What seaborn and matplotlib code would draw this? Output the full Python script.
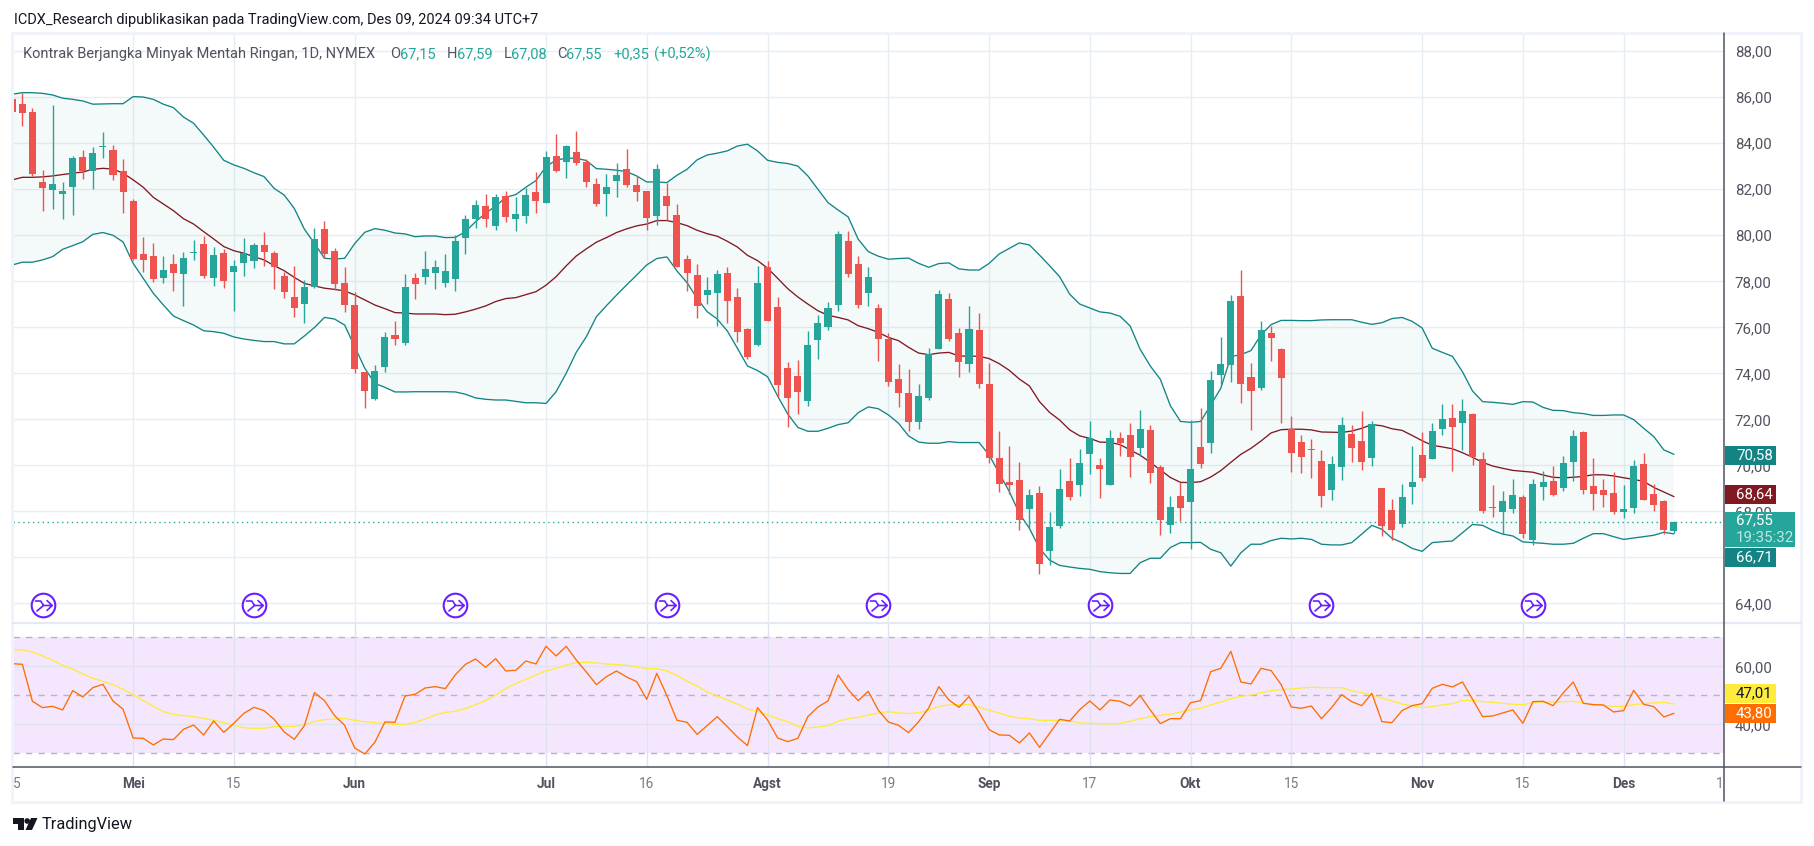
import numpy as np
import pandas as pd
import matplotlib
matplotlib.use("Agg")
import matplotlib.pyplot as plt
import seaborn as sns
from matplotlib.lines import Line2D
from matplotlib.patches import Circle, Polygon, Rectangle
from matplotlib.path import Path
from matplotlib.transforms import Affine2D

# daily candles
opens = [85.93,85.71,85.36,82.32,81.97,81.80,82.10,83.40,82.80,83.84,83.71,82.80,81.49,79.19,79.10,78.14,78.75,78.32,79.25,79.62,
         78.14,79.23,78.40,78.80,78.88,79.58,79.23,78.23,77.32,77.01,77.75,80.27,79.32,77.93,76.97,74.06,72.88,74.28,75.67,75.32,
         78.14,78.19,78.36,77.93,78.10,79.88,80.71,81.28,80.41,81.71,80.71,80.84,81.88,81.41,83.45,83.19,83.62,83.19,82.23,81.80,
         82.36,82.88,82.19,81.93,80.84,81.71,80.88,78.97,78.28,77.41,77.49,78.36,77.32,75.93,75.23,78.62,76.88,74.23,73.88,72.80,
         75.45,76.01,76.97,79.75,78.75,77.49,76.84,75.49,73.75,73.14,71.88,72.93,75.06,77.23,75.75,74.41,75.88,73.54,70.32,69.28,
         69.36,68.10,68.80,66.28,67.36,69.32,69.14,70.49,70.01,69.14,71.19,71.32,70.75,71.54,69.93,67.41,68.67,68.41,70.80,70.97,
         73.93,74.36,77.36,73.84,73.36,75.75,75.06,71.58,71.01,70.71,70.19,68.93,69.93,71.36,71.06,70.32,69.01,68.06,67.45,69.06,
         70.45,70.27,71.58,72.06,71.84,72.23,70.27,68.19,67.97,68.10,68.62,66.75,69.06,69.32,69.01,70.15,71.45,69.10,68.93,68.80,
         67.97,68.15,70.06,68.75,68.45,67.15]
highs = [85.95,86.17,85.52,82.84,85.67,82.32,83.45,83.71,83.84,84.49,83.93,83.32,81.58,79.93,79.67,79.10,79.19,79.28,79.80,79.97,
         79.49,79.41,78.93,79.88,79.67,80.14,79.32,78.40,78.67,78.06,80.32,80.62,79.45,78.62,77.54,74.06,74.36,75.80,76.27,78.32,
         78.36,79.32,78.93,79.19,80.01,80.88,81.54,81.80,81.80,81.93,81.67,82.06,82.75,83.67,84.41,83.93,84.54,83.32,82.49,82.67,
         83.15,83.75,82.58,81.93,83.10,82.28,81.36,79.14,78.75,78.19,78.49,78.62,77.71,75.97,78.67,78.88,77.32,74.49,74.58,75.84,
         76.54,77.10,80.19,80.19,79.10,78.62,77.01,75.75,74.41,74.19,73.54,75.10,77.62,77.49,75.97,76.93,76.62,74.45,71.49,70.84,
         70.14,68.97,69.10,67.97,69.84,70.32,70.71,71.93,70.32,71.54,71.45,71.84,72.41,71.75,70.01,68.67,69.28,71.97,72.49,74.10,
         75.58,77.41,78.49,74.45,76.28,76.06,75.10,72.15,71.32,71.14,70.67,70.41,72.10,71.75,72.36,71.93,69.01,68.54,69.19,70.84,
         71.45,71.84,72.67,72.67,72.88,72.28,70.58,69.15,68.88,69.41,68.71,69.41,69.75,69.97,70.41,71.54,71.49,70.32,69.41,69.71,
         69.15,70.23,70.54,69.19,68.49,67.59]
lows = [85.36,84.75,82.58,81.07,81.14,80.71,80.88,82.45,82.01,83.36,82.40,80.97,78.93,78.40,77.97,77.93,77.58,76.93,78.93,78.14,
        77.80,77.71,76.71,78.23,78.58,78.67,77.67,77.28,76.45,76.19,77.71,79.01,77.62,76.67,74.01,72.49,72.84,74.06,75.23,75.23,
        77.23,77.88,77.67,77.75,77.58,79.19,80.32,80.36,80.23,80.58,80.19,80.54,80.97,81.41,82.75,82.49,83.06,82.10,81.28,80.84,
        81.67,82.10,81.49,80.23,80.45,80.67,78.62,77.58,76.40,77.01,76.06,76.19,75.36,74.62,75.19,76.28,72.97,71.67,72.23,72.58,
        74.62,75.88,76.71,78.19,76.84,76.93,74.54,73.45,72.54,71.49,71.58,72.84,75.06,75.41,73.84,74.06,73.36,70.10,68.84,68.75,
        67.19,67.28,65.28,65.67,67.28,68.49,68.67,69.62,68.58,69.14,70.41,69.49,70.41,69.23,66.97,67.06,67.58,66.36,69.88,70.54,
        73.49,73.62,72.71,71.54,73.28,74.54,71.84,69.71,69.67,69.45,68.19,68.49,69.36,70.15,69.80,69.97,66.93,66.75,67.32,68.32,
        69.32,70.27,71.32,69.75,70.67,70.01,67.93,67.75,67.01,67.93,66.84,66.54,68.49,68.67,68.88,69.32,68.75,68.06,68.19,67.88,
        67.71,67.93,68.49,68.01,67.01,67.08]
closes = [85.36,85.33,82.67,82.06,82.23,81.93,83.36,82.80,83.58,83.88,82.62,81.88,78.97,78.93,78.10,78.49,78.36,79.01,79.28,78.23,
          79.15,78.01,78.67,79.23,79.58,79.28,78.62,77.54,76.84,77.75,79.84,79.19,77.88,76.97,74.19,73.23,74.10,75.58,75.49,77.75,
          77.88,78.54,78.62,78.45,79.75,80.71,81.32,80.71,81.67,80.80,80.93,81.75,81.49,83.41,82.80,83.88,83.15,82.32,81.36,82.10,
          82.62,82.19,81.88,80.75,82.88,81.28,78.62,78.36,76.93,77.62,78.32,77.14,75.80,74.71,77.93,76.28,73.49,72.93,73.19,75.23,
          76.19,76.84,80.06,78.32,76.97,78.19,75.49,73.62,73.14,71.88,73.01,74.84,77.45,75.49,74.49,75.93,73.54,70.32,69.19,69.14,
          67.62,68.71,65.71,67.32,68.97,68.62,70.10,71.19,69.84,71.19,70.97,70.36,71.58,69.67,67.62,68.19,68.15,69.84,70.06,73.71,
          74.41,77.15,73.54,73.23,75.88,75.54,73.80,70.54,70.36,70.67,68.67,70.06,71.75,70.75,70.15,71.80,67.36,67.19,68.62,69.27,
          69.45,71.49,72.01,71.67,72.36,70.36,68.01,68.15,68.45,68.71,67.01,69.19,69.27,68.71,70.10,71.27,68.93,68.75,68.71,67.97,
          68.10,69.97,68.49,68.28,67.20,67.55]

# Bollinger bands
bb_upper = [86.13,86.20,86.20,86.17,86.10,85.96,85.91,85.84,85.70,85.71,85.72,85.72,86.03,86.01,85.91,85.70,85.55,85.14,84.87,84.36,
            83.83,83.26,83.06,82.91,82.72,82.55,82.04,81.75,81.17,80.27,79.65,79.00,78.97,79.00,79.64,80.13,80.29,80.22,80.10,80.06,
            79.94,79.97,79.97,79.90,79.91,80.16,80.59,80.96,81.27,81.65,81.77,82.09,82.38,82.99,83.27,83.35,83.35,83.25,82.90,82.87,
            82.83,82.77,82.58,82.32,82.32,82.29,82.61,82.87,83.28,83.49,83.57,83.67,83.88,83.96,83.67,83.26,83.17,83.12,83.01,82.58,
            82.00,81.42,81.10,80.80,79.83,79.29,79.09,78.96,78.99,79.01,78.78,78.61,78.77,78.80,78.54,78.49,78.49,78.78,79.19,79.43,
            79.67,79.58,79.14,78.68,78.20,77.44,77.01,76.84,76.67,76.62,76.48,76.06,75.04,74.32,73.74,72.59,71.91,71.87,71.91,72.62,
            73.35,74.73,74.81,74.99,75.67,76.12,76.30,76.30,76.29,76.29,76.32,76.33,76.33,76.33,76.22,76.13,76.20,76.38,76.43,76.26,
            75.97,75.09,74.91,74.74,74.07,73.23,72.77,72.74,72.70,72.65,72.77,72.75,72.52,72.39,72.38,72.29,72.25,72.17,72.17,72.19,
            72.19,71.99,71.61,71.25,70.67,70.48]
bb_basis = [82.41,82.52,82.52,82.54,82.58,82.64,82.70,82.75,82.87,82.91,82.88,82.70,82.41,82.09,81.65,81.36,81.07,80.72,80.49,80.16,
            79.84,79.51,79.33,79.22,79.07,78.93,78.68,78.46,78.17,77.91,77.80,77.70,77.65,77.58,77.41,77.19,76.97,76.81,76.64,76.62,
            76.58,76.58,76.58,76.55,76.57,76.67,76.79,76.93,77.12,77.25,77.29,77.42,77.55,77.83,78.20,78.67,79.10,79.41,79.70,79.90,
            80.12,80.28,80.41,80.49,80.64,80.64,80.55,80.42,80.22,80.07,79.96,79.74,79.49,79.13,78.90,78.57,78.13,77.68,77.32,77.01,
            76.72,76.52,76.43,76.32,76.07,75.94,75.78,75.56,75.42,75.13,74.88,74.81,74.88,74.91,74.75,74.75,74.74,74.64,74.42,74.13,
            73.75,73.45,72.77,72.30,71.97,71.54,71.28,71.17,71.01,71.00,70.90,70.67,70.44,70.13,69.80,69.47,69.26,69.25,69.29,69.49,
            69.77,70.13,70.48,70.74,71.06,71.41,71.55,71.57,71.57,71.54,71.45,71.44,71.43,71.49,71.61,71.77,71.72,71.59,71.52,71.30,
            71.07,70.87,70.80,70.72,70.55,70.35,70.13,69.97,69.87,69.78,69.74,69.70,69.58,69.48,69.46,69.48,69.52,69.59,69.59,69.54,
            69.46,69.39,69.30,69.04,68.84,68.64]
bb_lower = [78.71,78.83,78.83,78.93,79.07,79.39,79.55,79.72,80.04,80.12,80.00,79.71,78.78,78.13,77.48,76.97,76.49,76.29,76.10,75.85,
            75.81,75.74,75.58,75.49,75.43,75.38,75.38,75.28,75.28,75.62,75.99,76.43,76.36,76.10,75.16,74.22,73.56,73.39,73.19,73.19,
            73.20,73.20,73.20,73.20,73.19,73.09,72.93,72.87,72.84,72.84,72.78,72.72,72.72,72.69,73.20,74.00,74.91,75.59,76.46,76.94,
            77.40,77.84,78.27,78.71,78.99,79.06,78.45,77.94,77.26,76.68,76.36,75.84,75.09,74.32,74.12,73.85,73.01,72.23,71.65,71.48,
            71.48,71.61,71.77,71.85,72.29,72.54,72.46,72.19,71.83,71.28,71.01,70.96,70.96,71.03,70.99,70.99,70.99,70.45,69.65,68.86,
            67.91,67.26,66.39,65.88,65.65,65.58,65.52,65.48,65.38,65.33,65.30,65.30,65.77,65.96,65.96,66.43,66.64,66.64,66.65,66.35,
            66.20,65.62,66.20,66.57,66.57,66.73,66.83,66.80,66.83,66.78,66.57,66.54,66.54,66.64,67.01,67.39,67.22,66.83,66.64,66.39,
            66.26,66.64,66.68,66.71,67.07,67.43,67.39,67.17,67.01,66.93,66.67,66.64,66.61,66.57,66.57,66.61,66.83,67.03,67.03,66.90,
            66.78,66.84,66.90,66.96,67.09,67.02]

# RSI and its moving average
rsi = [60.92,60.69,47.93,45.75,46.21,44.95,51.61,49.43,52.65,53.80,48.05,45.18,35.29,35.17,32.88,34.95,34.72,38.28,39.77,36.33,
       41.15,37.24,40.35,43.80,45.87,44.72,41.71,37.36,34.83,39.54,50.92,48.16,42.99,39.66,31.84,29.77,33.80,40.81,40.69,49.77,
       50.35,52.53,52.99,52.30,57.13,60.69,62.53,59.66,62.65,58.39,58.62,61.84,60.81,66.90,63.57,66.90,62.19,58.05,53.68,56.44,
       58.39,56.32,54.72,48.62,57.59,49.89,41.38,40.69,36.55,39.54,42.65,39.20,35.64,32.65,45.75,41.50,35.29,34.03,35.17,42.65,
       45.98,48.05,57.02,51.96,48.16,51.38,44.83,40.81,39.66,37.13,40.92,45.64,52.99,48.39,45.87,49.54,44.14,38.16,36.33,36.21,
       33.57,37.01,32.07,36.90,41.73,41.15,45.06,48.05,44.95,48.39,47.93,46.32,49.89,44.95,40.23,41.96,41.96,47.47,48.16,58.16,
       59.31,65.17,54.60,53.91,59.31,58.51,53.68,45.98,45.52,46.32,41.96,45.75,50.23,47.82,46.44,50.69,40.92,40.58,44.72,46.44,
       47.13,52.42,53.80,52.88,54.60,48.62,42.65,42.87,43.91,44.95,40.35,47.82,47.93,46.44,50.81,54.60,47.25,46.78,46.67,44.26,
       44.72,51.73,46.90,46.09,42.53,43.80]
rsi_ma = [65.64,65.64,64.95,63.57,62.07,60.35,59.08,57.36,55.87,54.83,53.68,52.07,50.23,48.16,46.21,44.37,43.45,42.99,42.65,42.07,
          41.38,40.58,39.66,38.85,38.62,38.62,39.20,39.31,39.31,39.89,40.92,41.61,41.84,42.07,41.38,40.92,40.58,40.23,40.00,40.00,
          40.69,41.84,43.22,44.14,44.49,45.41,46.78,48.16,50.11,52.30,54.03,55.52,57.02,58.39,59.31,60.46,61.27,61.38,61.15,60.81,
          60.58,60.35,59.89,59.20,59.20,58.39,56.90,54.83,53.22,51.15,49.77,48.39,47.02,45.29,44.49,43.22,41.96,40.92,39.31,38.74,
          39.08,39.54,41.04,41.96,42.42,43.22,43.91,44.37,43.91,43.68,44.03,44.83,46.21,46.67,46.78,46.78,45.87,44.83,43.91,42.76,
          42.19,41.96,41.38,41.38,41.38,41.15,40.46,40.35,40.23,40.12,40.35,41.04,41.96,42.65,43.11,43.45,44.26,44.95,45.52,46.67,
          47.70,48.85,49.66,50.12,50.92,51.61,51.96,52.19,52.53,52.76,52.65,52.65,52.65,51.61,50.92,50.00,48.97,48.05,47.02,46.32,
          45.75,46.09,46.67,47.13,48.16,48.28,47.82,47.59,47.25,46.90,46.78,47.47,47.70,47.70,47.82,47.93,47.36,46.78,46.55,46.21,
          46.21,46.78,47.13,47.36,47.59,47.01]

tick_bars = [12, 22, 34, 53, 63, 75, 87, 97, 107, 117, 127, 140, 150, 160]
tick_labels = ["Mei", "15", "Jun", "Jul", "16", "Agst", "19", "Sep", "17", "Okt", "15", "Nov", "15", "Des"]
month_labels = ["Mei", "Jun", "Jul", "Agst", "Sep", "Okt", "Nov", "Des"]
price_ticks = [64, 66, 68, 70, 72, 74, 76, 78, 80, 82, 84, 86, 88]
rsi_ticks = [40, 60]
rsi_bands = [30, 50, 70]
split_bars = [3, 24, 44, 65, 86, 108, 130, 151]
last_close = 67.55

GREEN = "#26a69a"
RED = "#ef5350"
TEAL = "#138484"
MAROON = "#801922"
ORANGE = "#ff6d00"
YELLOW = "#ffeb3b"
PURPLE = "#6a1fff"
GRID = "#e6eef4"
TEXT = "#50535e"
FRAME = "#f0f3fa"

sns.set_theme(style="white")
plt.rcParams["font.family"] = ["Roboto", "DejaVu Sans"]

W, H = 1814, 846
fig = plt.figure(figsize=(W / 100, H / 100), dpi=100, facecolor="white")
px = Affine2D().scale(1, -1).translate(0, H)


def pane(top, bottom):
    return fig.add_axes([13 / W, 1 - bottom / H, (1724.3 - 13) / W, (bottom - top) / H])


def comma(v):
    return f"{v:.2f}".replace(".", ",")


ax = pane(34, 622)
ax_rsi = pane(622, 767)

df = pd.DataFrame({"bar": np.arange(len(closes)), "open": opens, "high": highs, "low": lows, "close": closes,
                   "upper": bb_upper, "basis": bb_basis, "lower": bb_lower, "rsi": rsi, "rsi_ma": rsi_ma})
df["color"] = np.where(df["close"] >= df["open"], GREEN, RED)

# price pane
ax.set_xlim(0.07, 170)
ax.set_ylim(63.19, 88.75)
ax.set_yticks(price_ticks)
ax.set_xticks(tick_bars)
ax.grid(True, color=GRID, lw=1.0, zorder=0)
ax.set_axisbelow(True)

ax.fill(np.r_[df["bar"], df["bar"][::-1]], np.r_[df["upper"], df["lower"][::-1]], color=TEAL, alpha=0.045, lw=0, zorder=1)
sns.lineplot(data=df, x="bar", y="upper", ax=ax, color=TEAL, lw=0.95, estimator=None, zorder=2)
sns.lineplot(data=df, x="bar", y="lower", ax=ax, color=TEAL, lw=0.95, estimator=None, zorder=2)
sns.lineplot(data=df, x="bar", y="basis", ax=ax, color=MAROON, lw=0.95, estimator=None, zorder=2)
ax.axhline(last_close, color=GREEN, lw=1.0, ls=(0, (1, 2.5)), zorder=2.5)

ax.vlines(df["bar"], df["low"], df["high"], colors=df["color"], lw=1.0, zorder=3)
ax.bar(df["bar"], (df["close"] - df["open"]).abs().clip(lower=0.04), bottom=df[["open", "close"]].min(axis=1),
       width=0.7, color=df["color"], lw=0, zorder=4)

# purple event markers along the bottom of the price pane
arrow = Path([(-0.62, 0.32), (-0.2, 0.32), (0.0, 0.0), (-0.5, -0.42), (0.0, 0.0), (0.62, 0.0), (0.22, 0.38), (0.62, 0.0), (0.22, -0.38)],
             [Path.MOVETO, Path.LINETO, Path.LINETO, Path.MOVETO, Path.LINETO, Path.LINETO, Path.MOVETO, Path.LINETO, Path.LINETO])
ax.plot(split_bars, [63.93] * len(split_bars), ls="", marker="o", ms=17, mfc="white", mec=PURPLE, mew=1.5, zorder=5)
ax.plot(split_bars, [63.93] * len(split_bars), ls="", marker=arrow, ms=12.5, mfc="none", mec=PURPLE, mew=1.2, zorder=6)

# RSI pane
ax_rsi.set_xlim(0.07, 170)
ax_rsi.set_ylim(25.28, 75.28)
ax_rsi.axhspan(rsi_bands[0], rsi_bands[-1], color="#f4e6fd", lw=0, zorder=0)
ax_rsi.set_yticks(rsi_ticks)
ax_rsi.set_xticks(tick_bars)
ax_rsi.grid(True, color="#e0e2f1", lw=1.0, zorder=1)
ax_rsi.set_axisbelow(False)
for level in rsi_bands:
    ax_rsi.axhline(level, color="#b5b4c2", lw=1.0, ls=(0, (4.5, 4.5)), zorder=2)
sns.lineplot(data=df, x="bar", y="rsi_ma", ax=ax_rsi, color=YELLOW, lw=0.95, estimator=None, zorder=3)
sns.lineplot(data=df, x="bar", y="rsi", ax=ax_rsi, color=ORANGE, lw=0.95, estimator=None, zorder=4)

for a, ticks in ((ax, price_ticks), (ax_rsi, rsi_ticks)):
    a.set_xlabel("")
    a.set_ylabel("")
    a.set_facecolor("white")
    a.yaxis.tick_right()
    a.set_yticklabels([comma(t) for t in ticks])
    a.tick_params(axis="y", length=0, pad=7.5, labelsize=10.8, labelcolor=TEXT)
    a.tick_params(axis="x", length=0, labelbottom=False)
    for s in a.spines.values():
        s.set_visible(False)

# time axis
for bar, label in zip(tick_bars, tick_labels):
    is_month = label in month_labels
    fig.text(12.3 + 10.07 * bar, 784, label, transform=px, ha="center", va="center", fontsize=9.8,
             color=TEXT if is_month else "#787b86", fontweight="bold" if is_month else "normal")
fig.text(13, 784, "5", transform=px, ha="left", va="center", fontsize=9.8, color="#787b86")
fig.text(1723.5, 784, "1", transform=px, ha="right", va="center", fontsize=9.8, color="#787b86")

# frame and pane separators
fig.add_artist(Rectangle((12, 33), 1789, 768.5, transform=px, fill=False, ec=FRAME, lw=2.2))
fig.add_artist(Line2D([13, 1801], [622.5, 622.5], transform=px, color="#e6e9f2", lw=1.6))
fig.add_artist(Line2D([13, 1801], [767.3, 767.3], transform=px, color=TEXT, lw=1.1))
fig.add_artist(Line2D([1724.3, 1724.3], [33, 801], transform=px, color=TEXT, lw=1.1))


def value_tag(top, bottom, color, text, text_color="white", right=1776):
    fig.add_artist(Rectangle((1724.8, top), right - 1724.8, bottom - top, transform=px, fc=color, ec="none"))
    fig.text(1736, (top + bottom) / 2, text, transform=px, ha="left", va="center", fontsize=10.8, color=text_color)


value_tag(446, 464.7, TEAL, comma(bb_upper[-1] + 0.10))
value_tag(485, 503.7, MAROON, comma(bb_basis[-1]))
value_tag(512, 546.7, GREEN, "", right=1795)
fig.text(1736, 520, comma(last_close), transform=px, ha="left", va="center", fontsize=10.8, color="white")
fig.text(1736, 537.5, "19:35:32", transform=px, ha="left", va="center", fontsize=10.8, color="#bfe5e1")
value_tag(548, 566.7, TEAL, "66,71")
value_tag(684, 702.7, YELLOW, comma(rsi_ma[-1]), text_color="#131722")
value_tag(704, 722.7, ORANGE, comma(rsi[-1]))

# header, legend line and logo
fig.text(14, 20, "ICDX_Research dipublikasikan pada TradingView.com, Des 09, 2024 09:34 UTC+7", transform=px,
         ha="left", va="center", fontsize=10.45, color="#131722")
fig.text(23, 54, "Kontrak Berjangka Minyak Mentah Ringan, 1D, NYMEX", transform=px, ha="left", va="center", fontsize=10.5, color=TEXT)
for x, text, color in [(390, "O", TEXT), (400, comma(opens[-1]), GREEN), (447, "H", TEXT), (457, comma(highs[-1]), GREEN),
                       (504, "L", TEXT), (511, comma(lows[-1]), GREEN), (557, "C", TEXT), (566, comma(closes[-1]), GREEN),
                       (613, "+0,35", GREEN), (654, "(+0,52%)", GREEN)]:
    fig.text(x, 54, text, transform=px, ha="left", va="center", fontsize=10.5, color=color)

fig.add_artist(Polygon([(13.4, 818), (24, 818), (24, 830), (18, 830), (18, 824), (13.4, 824)], transform=px, fc="#131722", ec="none"))
fig.add_artist(Circle((27.2, 821), 2.8, transform=px, fc="#131722", ec="none"))
fig.add_artist(Polygon([(31, 818), (37.5, 818), (32, 830), (25.5, 830)], transform=px, fc="#131722", ec="none"))
fig.text(42, 824, "TradingView", transform=px, ha="left", va="center", fontsize=11.8, color="#131722")

fig.savefig("out.png", dpi=100)
